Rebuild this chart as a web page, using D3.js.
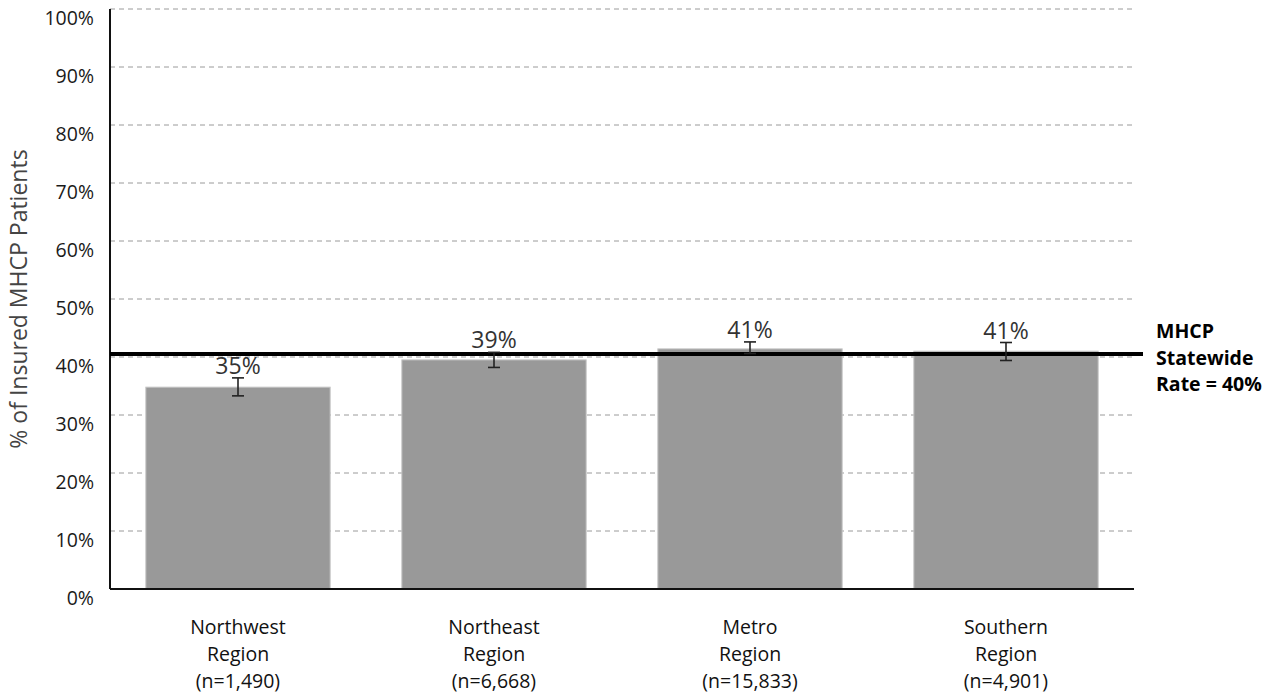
<!DOCTYPE html>
<html>
<head>
<meta charset="utf-8">
<script src="https://cdn.jsdelivr.net/npm/d3@7"></script>
<style>
  html, body { margin: 0; padding: 0; background: #fff; }
  svg { display: block; font-family: "Open Sans", "Lato", sans-serif; }
</style>
</head>
<body>
<svg id="chart" width="1281" height="695"></svg>
<script>
const regions = ["Northwest", "Northeast", "Metro", "Southern"];
const sampleSizes = ["1,490", "6,668", "15,833", "4,901"];
const rates = [34.8, 39.5, 41.4, 41.0];
const rateLabels = ["35%", "39%", "41%", "41%"];
const errLow = [33.3, 38.2, 40.6, 39.4];
const errHigh = [36.4, 40.8, 42.6, 42.5];
const statewideRate = 40.5;
const statewideLabel = ["MHCP", "Statewide", "Rate = 40%"];
const yTicks = [0, 10, 20, 30, 40, 50, 60, 70, 80, 90, 100];
const yTitle = "% of Insured MHCP Patients";

(function () {
const svg = d3.select("#chart");
const pL = 110, pR = 1134, pT = 9, pB = 589;

const x = d3.scaleBand().domain(regions).range([pL, pR])
  .paddingInner(0.28).paddingOuter(0.14);
const y = d3.scaleLinear().domain([0, 100]).range([pB, pT]);

// gridlines
svg.append("g").selectAll("line").data(yTicks.filter(d => d > 0)).join("line")
  .attr("x1", pL).attr("x2", pR)
  .attr("y1", d => y(d)).attr("y2", d => y(d))
  .attr("stroke", "#9a9a9a").attr("stroke-width", 1)
  .attr("stroke-dasharray", "5,4");

// y tick labels
svg.append("g").selectAll("text").data(yTicks).join("text")
  .attr("x", 94).attr("y", d => y(d) + 11)
  .attr("text-anchor", "end").attr("dominant-baseline", "middle")
  .attr("font-size", 19.5).attr("fill", "#1a1a1a")
  .text(d => d + "%");

// y title
svg.append("text")
  .attr("transform", `translate(21,${(pT + pB) / 2}) rotate(-90)`)
  .attr("text-anchor", "middle").attr("dominant-baseline", "middle")
  .attr("font-size", 23).attr("fill", "#444")
  .text(yTitle);

// bars
svg.append("g").selectAll("rect").data(regions).join("rect")
  .attr("x", d => x(d)).attr("width", x.bandwidth())
  .attr("y", (d, i) => y(rates[i])).attr("height", (d, i) => y(0) - y(rates[i]))
  .attr("fill", "#999999").attr("stroke", "#c4c4c4").attr("stroke-width", 1);

// axes lines
svg.append("line").attr("x1", pL).attr("x2", pL).attr("y1", pT).attr("y2", pB)
  .attr("stroke", "#111").attr("stroke-width", 2);
svg.append("line").attr("x1", pL).attr("x2", pR).attr("y1", pB).attr("y2", pB)
  .attr("stroke", "#111").attr("stroke-width", 2);

// statewide line
svg.append("line").attr("x1", pL).attr("x2", 1143)
  .attr("y1", y(statewideRate)).attr("y2", y(statewideRate))
  .attr("stroke", "#000").attr("stroke-width", 4);

// error bars
const eb = svg.append("g").attr("stroke", "#222").attr("stroke-width", 1.6);
regions.forEach((r, i) => {
  const cx = x(r) + x.bandwidth() / 2;
  eb.append("line").attr("x1", cx).attr("x2", cx).attr("y1", y(errHigh[i])).attr("y2", y(errLow[i]));
  eb.append("line").attr("x1", cx - 6).attr("x2", cx + 6).attr("y1", y(errHigh[i])).attr("y2", y(errHigh[i]));
  eb.append("line").attr("x1", cx - 6).attr("x2", cx + 6).attr("y1", y(errLow[i])).attr("y2", y(errLow[i]));
});

// value labels
svg.append("g").selectAll("text").data(regions).join("text")
  .attr("x", d => x(d) + x.bandwidth() / 2)
  .attr("y", (d, i) => y(errHigh[i]) - 4)
  .attr("text-anchor", "middle")
  .attr("font-size", 23).attr("fill", "#333")
  .text((d, i) => rateLabels[i]);

// x labels
const xl = svg.append("g");
regions.forEach((r, i) => {
  const t = xl.append("text").attr("text-anchor", "middle")
    .attr("font-size", 19.5).attr("fill", "#111");
  const cx = x(r) + x.bandwidth() / 2;
  [r, "Region", "(n=" + sampleSizes[i] + ")"].forEach((line, j) => {
    t.append("tspan").attr("x", cx).attr("y", 634 + j * 27).text(line);
  });
});

// statewide label
const sl = svg.append("text").attr("font-size", 19.5).attr("font-weight", "bold").attr("fill", "#000");
statewideLabel.forEach((line, j) => {
  sl.append("tspan").attr("x", 1156).attr("y", 338 + j * 26.5).text(line);
});
})();
</script>
</body>
</html>
